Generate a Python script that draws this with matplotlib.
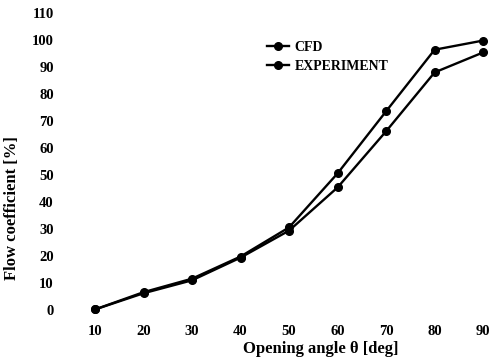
import matplotlib
matplotlib.use('Agg')
from matplotlib import pyplot as plt

##### DATA #####
angle = [10, 20, 30, 40, 50, 60, 70, 80, 90]
cfd = [0.2, 6.6, 11.6, 19.8, 30.6, 50.6, 73.6, 96.4, 99.8]
experiment = [0.2, 6.2, 11.0, 19.4, 29.4, 45.4, 66.2, 88.0, 95.4]
yticks = list(range(0, 111, 10))
##### ENDDATA #####

plt.rcParams['font.family'] = ['Liberation Serif', 'DejaVu Serif']
plt.rcParams['font.weight'] = 'bold'

fig = plt.figure(figsize=(4.92, 3.6), dpi=100)
L, R, B, T = 62, 488, 310, 13
ax = fig.add_axes([L/492, (360-B)/360, (R-L)/492, (B-T)/360])

ax.plot(angle, cfd, 'k-', marker='o', ms=5.5, lw=1.7, clip_on=False, label='CFD')
ax.plot(angle, experiment, 'k-', marker='o', ms=5.5, lw=1.7, clip_on=False, label='EXPERIMENT')

ax.set_xlim(3.2, 91)
ax.set_ylim(0, 110)
ax.set_xticks(angle)
ax.set_yticks(yticks)
for s in ax.spines.values():
    s.set_visible(False)
ax.tick_params(axis='both', length=0, labelsize=10.5)
ax.tick_params(axis='x', pad=11)
ax.tick_params(axis='y', pad=6)

ax.set_xlabel('Opening angle θ [deg]', fontsize=12, fontweight='bold', va='center')
ax.xaxis.set_label_coords((321-L)/(R-L), -(349-B)/(B-T), transform=ax.transAxes)
ax.set_ylabel('Flow coefficient [%]', fontsize=12, fontweight='bold', va='center')
ax.yaxis.set_label_coords(-(L-12)/(R-L), (B-208)/(B-T), transform=ax.transAxes)

leg = ax.legend(loc='upper left', bbox_to_anchor=((267-L)/(R-L), 1 - (41-T)/(B-T)),
                frameon=False, fontsize=10, handlelength=1.6, handletextpad=0.4,
                labelspacing=0.4, borderaxespad=0, borderpad=0)

fig.savefig('out.png', dpi=100)
